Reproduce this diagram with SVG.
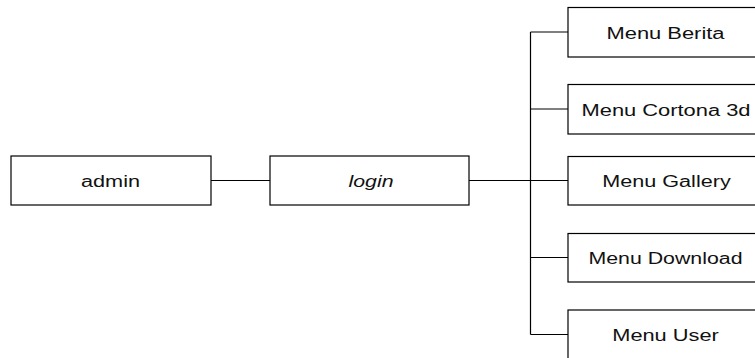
<svg xmlns="http://www.w3.org/2000/svg" width="755" height="358" viewBox="0 0 755 358">
  <style>
    .box { fill: #ffffff; stroke: #000000; stroke-width: 1.2; }
    .wire { fill: none; stroke: #000000; stroke-width: 1.2; }
    .lbl { font-family: "Liberation Sans", Arial, sans-serif; font-size: 16px; fill: #111111; text-anchor: middle; }
  </style>
  <rect width="755" height="358" fill="#ffffff"/>

  <!-- connectors -->
  <g id="connectors">
    <line class="wire" x1="211" y1="180.5" x2="270" y2="180.5"/>
    <line class="wire" x1="469" y1="180.5" x2="568" y2="180.5"/>
    <line class="wire" x1="530.5" y1="32" x2="530.5" y2="334.5"/>
    <line class="wire" x1="530.5" y1="32" x2="568" y2="32"/>
    <line class="wire" x1="530.5" y1="109" x2="568" y2="109"/>
    <line class="wire" x1="530.5" y1="257.5" x2="568" y2="257.5"/>
    <line class="wire" x1="530.5" y1="334.5" x2="568" y2="334.5"/>
  </g>

  <g id="admin">
    <rect class="box" x="11" y="156" width="200" height="49"/>
    <text class="lbl" x="110.5" y="187" textLength="59" lengthAdjust="spacingAndGlyphs">admin</text>
  </g>

  <g id="login">
    <rect class="box" x="270" y="156" width="199" height="49"/>
    <text class="lbl" x="371" y="187" font-style="italic" textLength="45" lengthAdjust="spacingAndGlyphs">login</text>
  </g>

  <g id="menu-berita">
    <rect class="box" x="568" y="7.5" width="196" height="49.5"/>
    <text class="lbl" x="665.5" y="38.5" textLength="118" lengthAdjust="spacingAndGlyphs">Menu Berita</text>
  </g>

  <g id="menu-cortona">
    <rect class="box" x="568" y="84.5" width="196" height="49.5"/>
    <text class="lbl" x="666" y="115.5" textLength="169" lengthAdjust="spacingAndGlyphs">Menu Cortona 3d</text>
  </g>

  <g id="menu-gallery">
    <rect class="box" x="568" y="156.5" width="196" height="48.5"/>
    <text class="lbl" x="666.5" y="187" textLength="128.5" lengthAdjust="spacingAndGlyphs">Menu Gallery</text>
  </g>

  <g id="menu-download">
    <rect class="box" x="568" y="233.5" width="196" height="48.5"/>
    <text class="lbl" x="665.5" y="264" textLength="154" lengthAdjust="spacingAndGlyphs">Menu Download</text>
  </g>

  <g id="menu-user">
    <rect class="box" x="568" y="310" width="196" height="49"/>
    <text class="lbl" x="665.5" y="341" textLength="106.5" lengthAdjust="spacingAndGlyphs">Menu User</text>
  </g>
</svg>
